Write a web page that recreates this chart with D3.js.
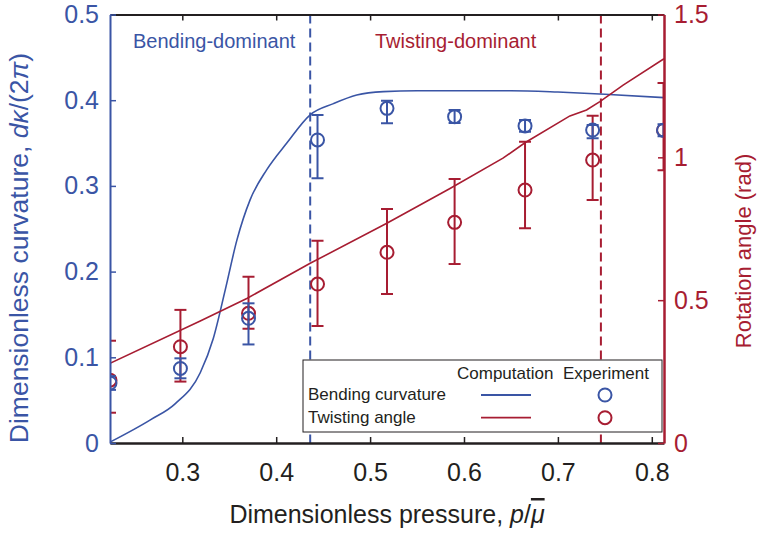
<!DOCTYPE html>
<html>
<head>
<meta charset="utf-8">
<script src="https://cdn.jsdelivr.net/npm/d3@7"></script>
<style>
  body { margin: 0; background: #fff; }
  text { font-family: Arial, "Liberation Sans", Helvetica, sans-serif; }
</style>
</head>
<body>
<div id="chart"></div>
<script>
// experiment: pressure, curvature (left axis), rotation angle (right axis)
const pressure = [0.223, 0.298, 0.3705, 0.444, 0.518, 0.590, 0.665, 0.737, 0.8125];
const curvature = [0.070, 0.087, 0.1455, 0.3536, 0.3905, 0.3808, 0.370, 0.3652, 0.365];
const curvatureLo = [0.062, 0.0755, 0.115, 0.309, 0.373, 0.3734, 0.3633, 0.3555, 0.358];
const curvatureHi = [0.078, 0.0988, 0.163, 0.3827, 0.3994, 0.3885, 0.377, 0.371, 0.372];
const angle = [0.22, 0.337, 0.454, 0.5565, 0.6675, 0.7725, 0.8855, 0.9905, 1.095];
const angleLo = [0.106, 0.215, 0.40, 0.4095, 0.5215, 0.6265, 0.7515, 0.8505, 0.955];
const angleHi = [0.358, 0.466, 0.582, 0.708, 0.819, 0.924, 1.0546, 1.1456, 1.26];

// computation curves
const bendP = [0.223, 0.266, 0.2926, 0.3191, 0.333, 0.3458, 0.3582, 0.3723, 0.39, 0.4113, 0.4362, 0.461, 0.4858, 0.5142, 0.55, 0.6, 0.65, 0.7, 0.75, 0.813];
const bendK = [0.001, 0.027, 0.046, 0.082, 0.122, 0.179, 0.237, 0.284, 0.319, 0.350, 0.383, 0.396, 0.406, 0.410, 0.411, 0.411, 0.411, 0.4095, 0.407, 0.403];
const twistP = [0.223, 0.3191, 0.3687, 0.4362, 0.5178, 0.5851, 0.6415, 0.6649, 0.7128, 0.7305, 0.7447, 0.7695, 0.813];
const twistA = [0.279, 0.427, 0.506, 0.629, 0.769, 0.891, 0.997, 1.051, 1.145, 1.166, 1.195, 1.253, 1.345];

const regimeBounds = [0.4362, 0.7458];
const xTicks = [0.3, 0.4, 0.5, 0.6, 0.7, 0.8];
const leftTicks = [0, 0.1, 0.2, 0.3, 0.4, 0.5];
const rightTicks = [0, 0.5, 1, 1.5];

const blue = "#3a55a5";
const red = "#a71d32";
const ink = "#231f20";

const svg = d3.select("#chart").append("svg")
    .attr("width", 761)
    .attr("height", 535);

const x = d3.scaleLinear().domain([0.223, 0.813]).range([110, 664]);
const yL = d3.scaleLinear().domain([0, 0.5]).range([443, 14.5]);
const yR = d3.scaleLinear().domain([0, 1.5]).range([443, 14.5]);

svg.append("defs").append("clipPath").attr("id", "plot")
    .append("rect")
    .attr("x", x.range()[0]).attr("y", yL.range()[1])
    .attr("width", x.range()[1] - x.range()[0])
    .attr("height", yL.range()[0] - yL.range()[1]);

const plot = svg.append("g").attr("clip-path", "url(#plot)");

// regime dividers
plot.selectAll(".divider")
    .data(regimeBounds)
    .enter().append("line")
    .attr("x1", d => x(d)).attr("x2", d => x(d))
    .attr("y1", yL.range()[1]).attr("y2", yL.range()[0])
    .attr("stroke", (d, i) => i === 0 ? blue : red)
    .attr("stroke-width", 2)
    .attr("stroke-dasharray", "9,5");

// computation curves
plot.append("path")
    .datum(bendP.map((p, i) => [p, bendK[i]]))
    .attr("fill", "none").attr("stroke", blue).attr("stroke-width", 1.6)
    .attr("d", d3.line().x(d => x(d[0])).y(d => yL(d[1])).curve(d3.curveMonotoneX));

plot.append("path")
    .datum(twistP.map((p, i) => [p, twistA[i]]))
    .attr("fill", "none").attr("stroke", red).attr("stroke-width", 1.6)
    .attr("d", d3.line().x(d => x(d[0])).y(d => yR(d[1])));

// experiment points with error bars
function errorPoints(vals, lo, hi, scale, color) {
    const g = plot.append("g").attr("stroke", color).attr("stroke-width", 2).attr("fill", "none");
    pressure.forEach((p, i) => {
        const cx = x(p);
        g.append("line").attr("x1", cx).attr("x2", cx).attr("y1", scale(lo[i])).attr("y2", scale(hi[i]));
        [lo[i], hi[i]].forEach(v => {
            g.append("line").attr("x1", cx - 6).attr("x2", cx + 6).attr("y1", scale(v)).attr("y2", scale(v));
        });
        g.append("circle").attr("cx", cx).attr("cy", scale(vals[i])).attr("r", 6.5);
    });
}
errorPoints(angle, angleLo, angleHi, yR, red);
errorPoints(curvature, curvatureLo, curvatureHi, yL, blue);

// axes
const axisBottomG = svg.append("g")
    .attr("transform", `translate(0,${yL.range()[0]})`)
    .call(d3.axisBottom(x).tickValues(xTicks).tickFormat(d3.format(".1f")).tickSize(-6).tickSizeOuter(0).tickPadding(20));
axisBottomG.selectAll("text").style("font-size", "25px").attr("fill", ink);
axisBottomG.selectAll("line").attr("stroke", ink).attr("stroke-width", 1.5);
axisBottomG.select(".domain").attr("stroke", ink).attr("stroke-width", 2.5);

const axisTopG = svg.append("g")
    .attr("transform", `translate(0,${yL.range()[1]})`)
    .call(d3.axisTop(x).tickValues(xTicks).tickFormat("").tickSize(-6).tickSizeOuter(0));
axisTopG.selectAll("line").attr("stroke", ink).attr("stroke-width", 1.5);
axisTopG.select(".domain").attr("stroke", ink).attr("stroke-width", 2);

const axisLeftG = svg.append("g")
    .attr("transform", `translate(${x.range()[0]},0)`)
    .call(d3.axisLeft(yL).tickValues(leftTicks).tickFormat(d => d === 0 ? "0" : d3.format(".1f")(d)).tickSize(-6).tickSizeOuter(0).tickPadding(11));
axisLeftG.selectAll("text").style("font-size", "25px").attr("fill", blue);
axisLeftG.selectAll("line").attr("stroke", blue).attr("stroke-width", 1.5);
axisLeftG.select(".domain").attr("stroke", blue).attr("stroke-width", 2);

const axisRightG = svg.append("g")
    .attr("transform", `translate(${x.range()[1]},0)`)
    .call(d3.axisRight(yR).tickValues(rightTicks).tickFormat(d => String(d)).tickSize(-6).tickSizeOuter(0).tickPadding(10));
axisRightG.selectAll("text").style("font-size", "25px").attr("fill", red);
axisRightG.selectAll("line").attr("stroke", red).attr("stroke-width", 1.5);
axisRightG.select(".domain").attr("stroke", red).attr("stroke-width", 2.5);

// axis titles
const leftTitle = svg.append("text")
    .attr("transform", "translate(28,248) rotate(-90)")
    .attr("text-anchor", "middle")
    .style("font-size", "26.5px")
    .attr("fill", blue);
leftTitle.append("tspan").text("Dimensionless curvature, ");
leftTitle.append("tspan").style("font-style", "italic").text("dκ");
leftTitle.append("tspan").text("/(2");
leftTitle.append("tspan").style("font-style", "italic").text("π");
leftTitle.append("tspan").text(")");

svg.append("text")
    .attr("transform", "translate(751,251) rotate(-90)")
    .attr("text-anchor", "middle")
    .style("font-size", "22px")
    .attr("fill", red)
    .text("Rotation angle (rad)");

const xTitle = svg.append("text")
    .attr("x", 387).attr("y", 523)
    .attr("text-anchor", "middle")
    .style("font-size", "25px")
    .attr("fill", ink);
xTitle.append("tspan").text("Dimensionless pressure, ");
xTitle.append("tspan").style("font-style", "italic").text("p");
xTitle.append("tspan").text("/");
xTitle.append("tspan").style("font-style", "italic").style("text-decoration", "overline").text("μ");

// regime labels
svg.append("text").attr("x", 133).attr("y", 48)
    .style("font-size", "20px").attr("fill", blue).text("Bending-dominant");
svg.append("text").attr("x", 375).attr("y", 48)
    .style("font-size", "20px").attr("fill", red).text("Twisting-dominant");

// legend
const legendRows = ["Bending curvature", "Twisting angle"];
const legendColors = [blue, red];
const legend = svg.append("g");
legend.append("rect")
    .attr("x", 303).attr("y", 360).attr("width", 359).attr("height", 72)
    .attr("fill", "#fff").attr("stroke", ink).attr("stroke-width", 1);
legend.append("text").attr("x", 457).attr("y", 379)
    .style("font-size", "17px").attr("fill", ink).text("Computation");
legend.append("text").attr("x", 563).attr("y", 379)
    .style("font-size", "17px").attr("fill", ink).text("Experiment");
legendRows.forEach((name, i) => {
    const cy = 395 + i * 22.7;
    legend.append("text").attr("x", 308).attr("y", cy + 5)
        .style("font-size", "17px").attr("fill", ink).text(name);
    legend.append("line").attr("x1", 481).attr("x2", 531).attr("y1", cy).attr("y2", cy)
        .attr("stroke", legendColors[i]).attr("stroke-width", 1.8);
    legend.append("circle").attr("cx", 605).attr("cy", cy).attr("r", 6.5)
        .attr("fill", "none").attr("stroke", legendColors[i]).attr("stroke-width", 2);
});
</script>
</body>
</html>
